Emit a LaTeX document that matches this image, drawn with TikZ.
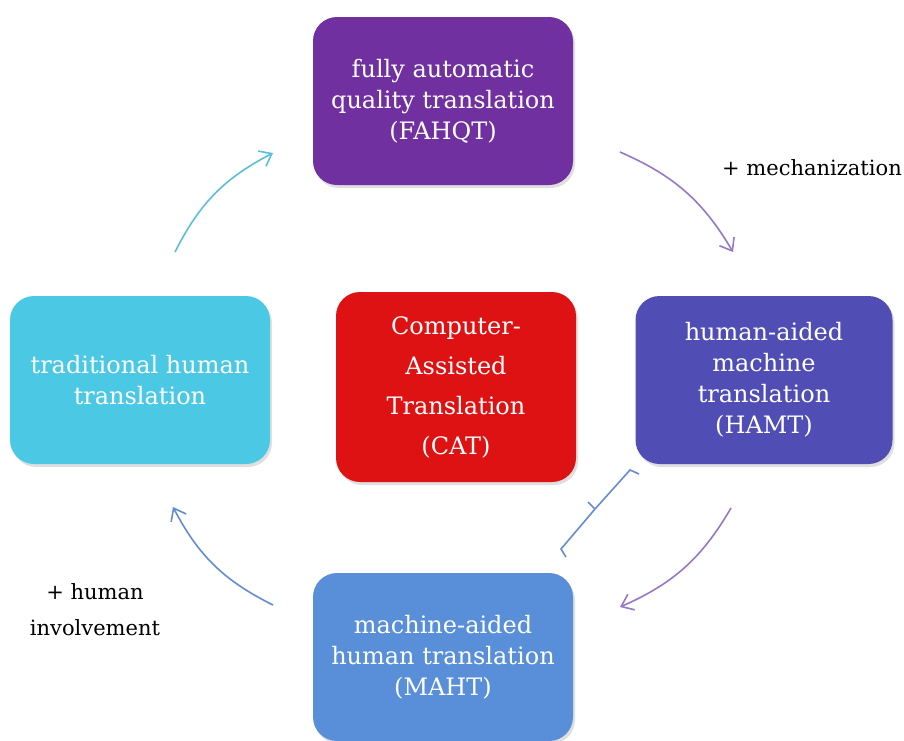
\documentclass[tikz,border=0pt]{standalone}
\usepackage{fontspec}
\setmainfont{DejaVu Serif}
\usepackage{tikz}
\usetikzlibrary{arrows.meta,positioning,shadows}
\definecolor{fahqtPurple}{RGB}{112,48,160}
\definecolor{humanCyan}{RGB}{75,200,228}
\definecolor{catRed}{RGB}{222,18,18}
\definecolor{hamtIndigo}{RGB}{80,78,180}
\definecolor{mahtBlue}{RGB}{88,143,216}
\definecolor{arrCyan}{RGB}{90,190,218}
\definecolor{arrPurple}{RGB}{150,120,200}
\definecolor{arrBlue}{RGB}{100,140,210}

\begin{document}
\begin{tikzpicture}[x=1pt,y=-1pt,
  box/.style={rectangle,rounded corners=24pt,text=white,align=center,
              minimum width=260pt,minimum height=168pt,inner sep=4pt,
              font=\fontsize{24}{31}\selectfont,
              drop shadow={shadow xshift=2pt,shadow yshift=-3pt,opacity=0.25}},
  flow/.style={-{Straight Barb[length=11pt,width=17pt]},line width=1.6pt},
  note/.style={font=\fontsize{21}{36}\selectfont,align=center}
]
  \useasboundingbox (0,0) rectangle (904,740);
  \node[box,fill=fahqtPurple] (fahqt) at (443,101) {fully automatic\\quality translation\\(FAHQT)};
  \node[box,fill=humanCyan]   (human) at (140,380) {traditional human\\translation};
  \node[box,fill=catRed,minimum width=240pt,minimum height=190pt,
        font=\fontsize{24}{40}\selectfont] (cat) at (456,387) {Computer-\\Assisted\\Translation\\(CAT)};
  \node[box,fill=hamtIndigo,minimum width=257pt] (hamt) at (764,380) {human-aided\\machine\\translation\\(HAMT)};
  \node[box,fill=mahtBlue]    (maht) at (443,657) {machine-aided\\human translation\\(MAHT)};
  \node[note] (mech) at (812,168) {+ mechanization};
  \node[note] (invol) at (95,610) {+ human\\involvement};
  % cycle arrows
  \coordinate (a1) at (175,252); \coordinate (a2) at (273,153);
  \coordinate (b1) at (620,152); \coordinate (b2) at (733,252);
  \coordinate (c1) at (731,508); \coordinate (c2) at (620,607);
  \coordinate (d1) at (273,605); \coordinate (d2) at (173,507);
  \draw[flow,arrCyan]   (a1) to[bend left=18] (a2);
  \draw[flow,arrPurple] (b1) to[bend left=18] (b2);
  \draw[flow,arrPurple] (c1) to[bend left=18] (c2);
  \draw[flow,arrBlue]   (d1) to[bend left=18] (d2);
  % bracket
  \coordinate (k1) at (566,557); \coordinate (k2) at (561,549);
  \coordinate (k3) at (630,470); \coordinate (k4) at (639,474);
  \draw[arrBlue,line width=1.6pt] (k1) -- (k2) -- (595,509) -- (588,502)
        (595,509) -- (k3) -- (k4);
\end{tikzpicture}
\end{document}
